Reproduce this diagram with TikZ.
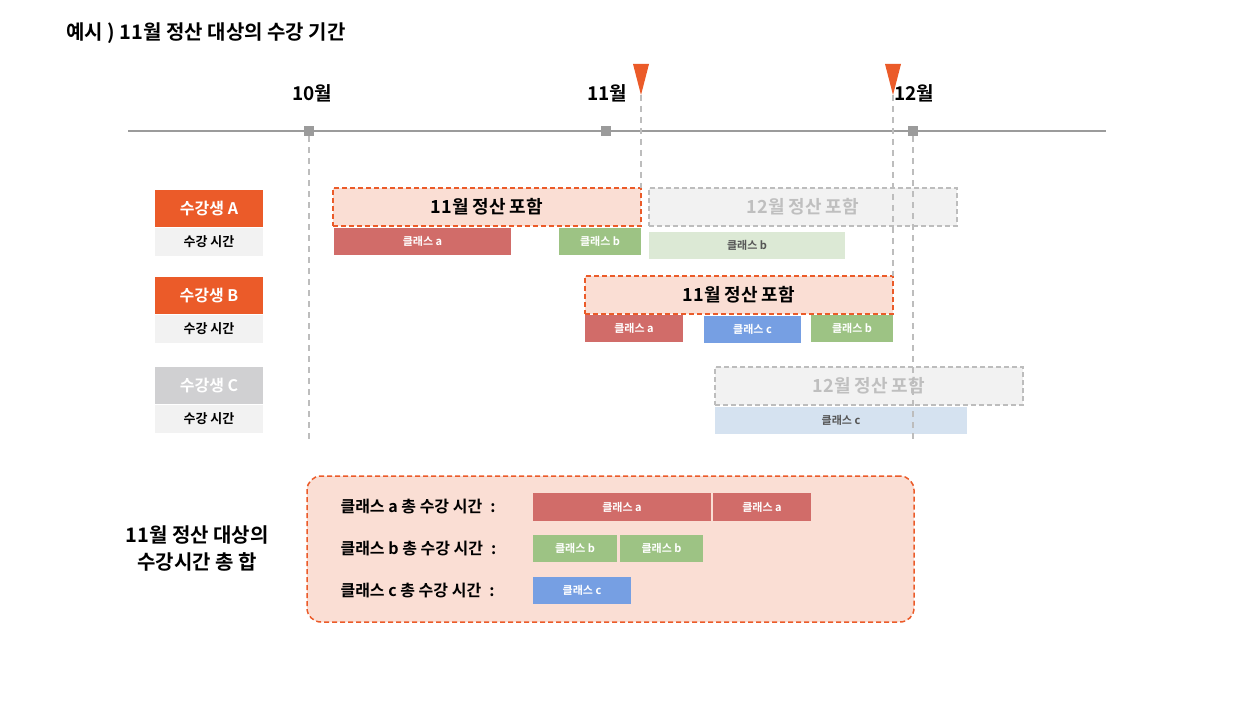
\documentclass[tikz,border=0pt]{standalone}
\usepackage{fontspec}
\setmainfont{Noto Sans CJK KR}[BoldFont={Noto Sans CJK KR Bold}]
\definecolor{orng}{HTML}{EB5B29}
\definecolor{salmon}{HTML}{FADED4}
\definecolor{clsa}{HTML}{D16C69}
\definecolor{clsb}{HTML}{9DC384}
\definecolor{clsc}{HTML}{769FE3}
\definecolor{clsbl}{HTML}{DCE9D5}
\definecolor{clscl}{HTML}{D5E2F0}
\definecolor{lgray}{HTML}{F2F2F2}
\definecolor{mgray}{HTML}{D0D0D2}
\definecolor{axisgray}{HTML}{9B9B9B}
\definecolor{dgray}{HTML}{BDBDBD}
\definecolor{tgray}{HTML}{BFBFBF}
\definecolor{dtext}{HTML}{555555}
\tikzset{
  tl/.style={anchor=north west, inner sep=0pt, outer sep=0pt},
  stud/.style={tl, minimum width=108pt, minimum height=37pt, text=white, font=\fontsize{16}{16}\selectfont\bfseries},
  hours/.style={tl, fill=lgray, minimum width=108pt, minimum height=28pt, font=\fontsize{13}{13}\selectfont\bfseries},
  incl/.style={tl, fill=salmon, draw=orng, line width=1.5pt, dash pattern=on 5pt off 3pt, minimum width=308pt, minimum height=38pt, font=\fontsize{18}{18}\selectfont\bfseries},
  excl/.style={incl, fill=lgray, draw=dgray, text=tgray},
  cls/.style={tl, minimum height=27pt, text=white, font=\fontsize{11}{11}\selectfont\bfseries},
  guide/.style={dgray, line width=1.2pt, dash pattern=on 6pt off 5pt},
  sumlab/.style={anchor=west, font=\fontsize{16}{16}\selectfont\bfseries},
}
\begin{document}
\begin{tikzpicture}[x=1pt, y=-1pt]
\useasboundingbox (0,0) rectangle (1236,714);
\node[anchor=west, font=\fontsize{20}{20}\selectfont\bfseries] (title) at (63,33) {예시 ) 11월 정산 대상의 수강 기간};
% timeline
\coordinate (tl0) at (128,131);
\coordinate (tl1) at (1106,131);
\draw[axisgray, line width=1.5pt] (tl0) -- (tl1);
\foreach \x/\lx/\m in {309/312/10,606/607/11,913/914/12}{
	\node[fill=axisgray, minimum size=10pt, inner sep=0pt] (sq\m) at (\x,131) {};
	\node[font=\fontsize{19}{19}\selectfont\bfseries] (mon\m) at (\lx,93) {\m{}월};
	}
\foreach \x/\n in {641/1,893/2}{
	\fill[orng] (\x-8,64) -- (\x+8,64) -- (\x,95) -- cycle;
	\coordinate (tip\n) at (\x,95);
	}
% students
\foreach \r/\y/\c in {A/190/orng,B/277/orng,C/367/mgray}{
	\node[stud, fill=\c] (stud\r) at (155,\y) {수강생 \r};
	\node[hours] (hrs\r) at (155,\y+38) {수강 시간};
	}
\node[incl] (novA) at (333,188) {11월 정산 포함};
\node[excl] (decA) at (649,188) {12월 정산 포함};
\node[cls, fill=clsa, minimum width=177pt] (aA) at (334,228) {클래스 a};
\node[cls, fill=clsb, minimum width=82pt] (bA) at (559,228) {클래스 b};
\node[cls, fill=clsbl, text=dtext, minimum width=196pt] (bA2) at (649,232) {클래스 b};
\node[incl] (novB) at (585,276) {11월 정산 포함};
\node[cls, fill=clsa, minimum width=98pt] (aB) at (585,315) {클래스 a};
\node[cls, fill=clsc, minimum width=97pt] (cB) at (704,316) {클래스 c};
\node[cls, fill=clsb, minimum width=82pt] (bB) at (811,315) {클래스 b};
\node[excl] (decC) at (715,367) {12월 정산 포함};
\node[cls, fill=clscl, text=dtext, minimum width=252pt] (cC) at (715,407) {클래스 c};
% guide lines
\coordinate (end10) at (309,443);
\coordinate (end12) at (913,443);
\draw[guide] (sq10.south) -- (end10);
\draw[guide] (sq12.south) -- (end12);
\draw[guide] (tip1) -- (tip1 |- novA.north);
\draw[guide] (tip2) -- (tip2 |- novB.north);
% total
\node[align=center, font=\fontsize{20}{27}\selectfont\bfseries] (total) at (197,549) {11월 정산 대상의\\수강시간 총 합};
\node[tl, fill=salmon, draw=orng, line width=1.5pt, dash pattern=on 5pt off 3pt, rounded corners=14pt, minimum width=607pt, minimum height=146pt] (sumbox) at (307,476) {};
\foreach \k/\y in {a/507,b/549,c/591}{
	\node[sumlab] (lab\k) at (337,\y) {클래스 \k{} 총 수강 시간\hspace{8pt}:};
	}
\node[cls, fill=clsa, minimum width=178pt, minimum height=28pt] (suma1) at (533,493) {클래스 a};
\node[cls, fill=clsa, minimum width=98pt, minimum height=28pt] (suma2) at (713,493) {클래스 a};
\node[cls, fill=clsb, minimum width=84pt] (sumb1) at (533,535) {클래스 b};
\node[cls, fill=clsb, minimum width=83pt] (sumb2) at (620,535) {클래스 b};
\node[cls, fill=clsc, minimum width=98pt] (sumc) at (533,577) {클래스 c};
\end{tikzpicture}
\end{document}
